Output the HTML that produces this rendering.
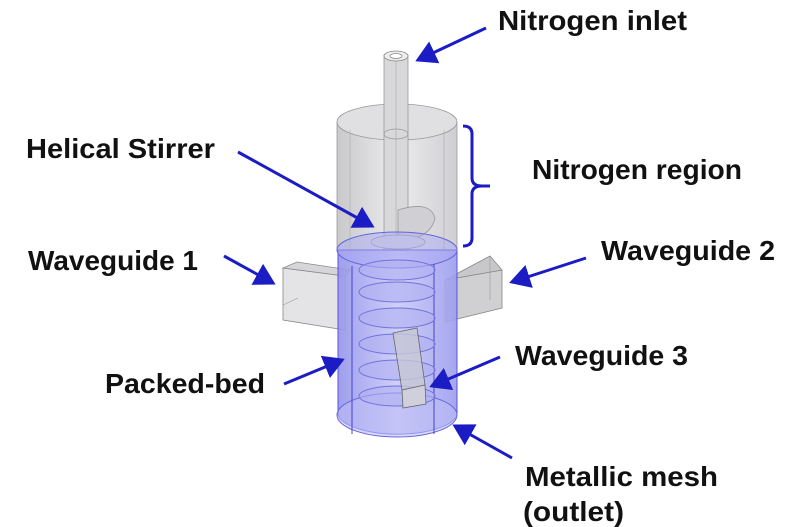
<!DOCTYPE html>
<html><head><meta charset="utf-8"><style>
html,body{margin:0;padding:0;background:#fff;}
svg{display:block}
text{font-family:"Liberation Sans",sans-serif;font-weight:bold;font-size:28px;fill:#111;}
</style></head><body>
<svg width="810" height="527" viewBox="0 0 810 527">
<defs>
<marker id="ah" markerWidth="8" markerHeight="8" refX="6" refY="4" orient="auto" markerUnits="strokeWidth">
<path d="M0,0 L7,4 L0,8 Z" fill="#1c1cc4"/></marker>
<linearGradient id="gc" x1="0" x2="1"><stop offset="0" stop-color="#c9c9cc"/><stop offset="0.5" stop-color="#ececee"/><stop offset="1" stop-color="#cfcfd3"/></linearGradient>
<linearGradient id="bc" x1="0" x2="1"><stop offset="0" stop-color="#9494ec"/><stop offset="0.5" stop-color="#cacaf8"/><stop offset="1" stop-color="#9c9cee"/></linearGradient>
</defs>
<path d="M337,122 L337,250 L457,250 L457,122 Z" fill="url(#gc)" stroke="#999" stroke-width="0.8"/>
<ellipse cx="397" cy="122" rx="60" ry="18" fill="#e0e0e2" stroke="#999" stroke-width="0.8"/>
<line x1="350" y1="130" x2="350" y2="250" stroke="#aaa" stroke-width="0.6"/>
<line x1="444" y1="130" x2="444" y2="250" stroke="#aaa" stroke-width="0.6"/>
<rect x="384" y="55" width="24" height="200" fill="#d8d8da" stroke="#999" stroke-width="0.8"/>
<line x1="396" y1="58" x2="396" y2="250" stroke="#bbb" stroke-width="1"/>
<ellipse cx="396" cy="56" rx="12" ry="5" fill="#eee" stroke="#888" stroke-width="0.8"/>
<ellipse cx="396" cy="56" rx="6" ry="2.5" fill="#fff" stroke="#888" stroke-width="0.8"/>
<ellipse cx="396" cy="134" rx="12" ry="5" fill="none" stroke="#999" stroke-width="0.8"/>
<path d="M398,210 Q430,200 435,218 Q430,240 398,240 Z" fill="#d0d0d4" stroke="#999" stroke-width="0.8"/>
<ellipse cx="398" cy="242" rx="27" ry="7" fill="#d8d8dc" stroke="#999" stroke-width="0.8"/>
<path d="M283,268 L345,276 L345,330 L283,320 Z" fill="#e4e4e6" stroke="#888" stroke-width="0.8"/>
<path d="M283,268 L297,262 L350,270 L345,276 Z" fill="#d6d6d8" stroke="#888" stroke-width="0.8"/>
<line x1="283" y1="305" x2="298" y2="298" stroke="#999" stroke-width="0.6"/>
<path d="M445,280 L502,270 L502,308 L445,322 Z" fill="#d0d0d3" stroke="#888" stroke-width="0.8"/>
<path d="M445,280 L490,256 L502,270 Z" fill="#c8c8cb" stroke="#888" stroke-width="0.8"/>
<line x1="490" y1="256" x2="490" y2="300" stroke="#999" stroke-width="0.6"/>
<path d="M338,250 L338,415 A60,22 0 0 0 457,415 L457,250 Z" fill="url(#bc)" fill-opacity="0.9" stroke="#5555dd" stroke-width="1"/>
<ellipse cx="397" cy="250" rx="60" ry="18" fill="#a8a8f4" fill-opacity="0.5" stroke="#6666dd" stroke-width="1"/>
<ellipse cx="397" cy="415" rx="60" ry="22" fill="#bcbcf6" fill-opacity="0.6" stroke="#6666dd" stroke-width="1"/>
<line x1="352" y1="266" x2="352" y2="434" stroke="#4444cc" stroke-width="1"/>
<line x1="434" y1="264" x2="434" y2="434" stroke="#4444cc" stroke-width="1"/>
<g fill="#b0b0f2" fill-opacity="0.6" stroke="#7070dd" stroke-width="1">
<ellipse cx="397" cy="270" rx="38" ry="10"/>
<ellipse cx="397" cy="292" rx="38" ry="10"/>
<ellipse cx="397" cy="318" rx="38" ry="10"/>
<ellipse cx="397" cy="344" rx="38" ry="10"/>
<ellipse cx="397" cy="370" rx="38" ry="10"/>
<ellipse cx="397" cy="396" rx="38" ry="10"/>
</g>
<path d="M393,333 L417,328 L425,385 L402,390 Z" fill="#c8c8d6" fill-opacity="0.8" stroke="#666" stroke-width="0.8"/>
<path d="M402,390 L425,385 L426,404 L403,408 Z" fill="#d0d0dc" stroke="#666" stroke-width="0.8"/>
<path d="M463,126 Q472,126 472,134 L472,178 Q472,186 482,186 L490,186 M482,186 Q472,186 472,194 L472,238 Q472,246 463,246" fill="none" stroke="#1c1cc4" stroke-width="3"/>
<g stroke="#1c1cc4" stroke-width="3" fill="none" marker-end="url(#ah)">
<line x1="486" y1="28" x2="418" y2="60"/>
<line x1="238" y1="152" x2="372" y2="226"/>
<line x1="224" y1="256" x2="273" y2="283"/>
<line x1="586" y1="258" x2="512" y2="282"/>
<line x1="284" y1="384" x2="342" y2="360"/>
<line x1="500" y1="357" x2="432" y2="386"/>
<line x1="512" y1="458" x2="455" y2="426"/>
</g>
<text x="498" y="30" textLength="189" lengthAdjust="spacingAndGlyphs">Nitrogen inlet</text>
<text x="26" y="158" textLength="189" lengthAdjust="spacingAndGlyphs">Helical Stirrer</text>
<text x="532" y="179" textLength="210" lengthAdjust="spacingAndGlyphs">Nitrogen region</text>
<text x="28" y="270" textLength="170" lengthAdjust="spacingAndGlyphs">Waveguide 1</text>
<text x="601" y="260" textLength="174" lengthAdjust="spacingAndGlyphs">Waveguide 2</text>
<text x="105" y="393" textLength="160" lengthAdjust="spacingAndGlyphs">Packed-bed</text>
<text x="515" y="365" textLength="173" lengthAdjust="spacingAndGlyphs">Waveguide 3</text>
<text x="525" y="486" textLength="193" lengthAdjust="spacingAndGlyphs">Metallic mesh</text>
<text x="523" y="521" textLength="101" lengthAdjust="spacingAndGlyphs">(outlet)</text>
</svg>
</body></html>
